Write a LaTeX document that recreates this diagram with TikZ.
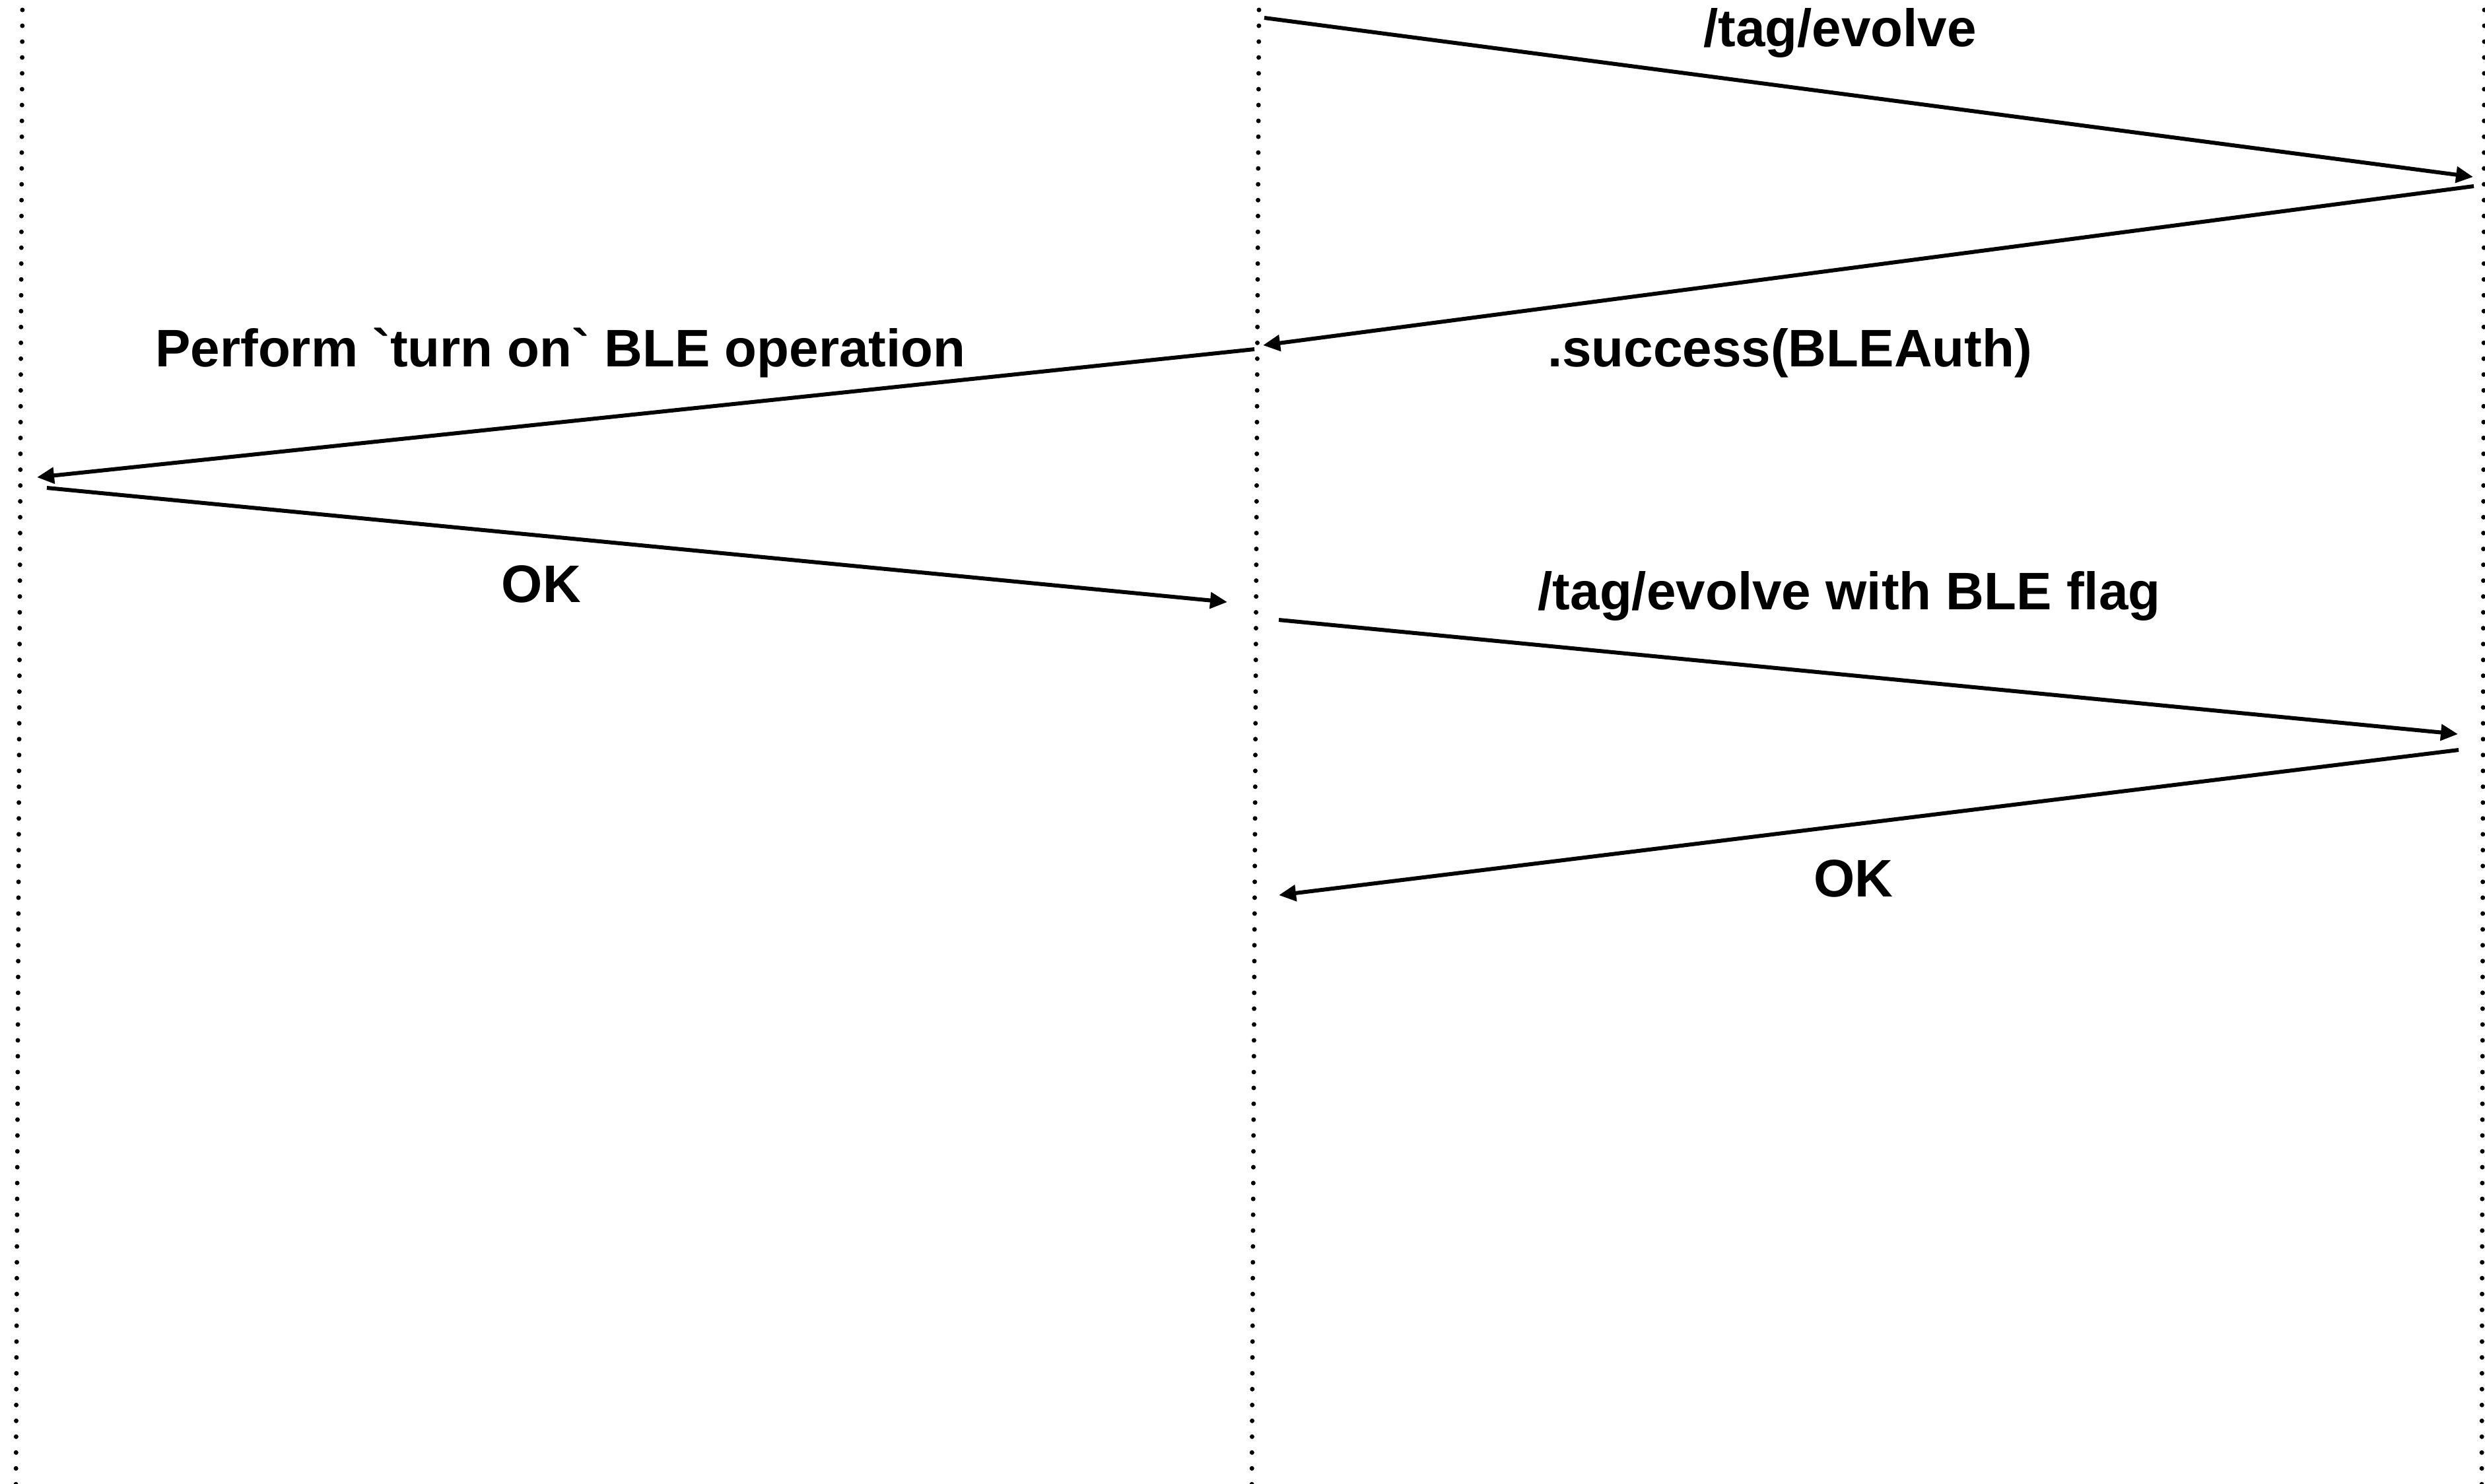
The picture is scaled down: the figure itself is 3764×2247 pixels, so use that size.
\documentclass[tikz,border=0pt]{standalone}
\usepackage{fontspec}
\setmainfont{Liberation Sans}
\usetikzlibrary{arrows.meta}
\newcommand\gravemark{\XeTeXglyph\XeTeXcharglyph"60\relax}
\begin{document}
\begin{tikzpicture}[x=0.01cm,y=-0.01cm,
  lifeline/.style={line width=0.07cm,line cap=round,dash pattern=on 0pt off 0.24cm,dash phase=-0.15cm},
  msg/.style={line width=0.06cm,-{Triangle[length=0.26cm,width=0.24cm]}},
  lbl/.style={anchor=base,inner sep=0pt,font=\fontsize{22.76}{27}\selectfont\bfseries}]
\useasboundingbox (0,0) rectangle (3764,2247);
% lifelines
\coordinate (Ltop) at (34,0);
\coordinate (Lbot) at (24,2270);
\coordinate (Mtop) at (1907,0);
\coordinate (Mbot) at (1896,2270);
\coordinate (Rtop) at (3763,0);
\coordinate (Rbot) at (3759,2270);
\draw[lifeline] (Ltop) -- (Lbot);
\draw[lifeline] (Mtop) -- (Mbot);
\draw[lifeline] (Rtop) -- (Rbot);
% message end points
\coordinate (a1) at (1915,27);   \coordinate (b1) at (3746,268);
\coordinate (a2) at (3747,282);  \coordinate (b2) at (1913,523);
\coordinate (a3) at (1900,529);  \coordinate (b3) at (56,723);
\coordinate (a4) at (71,739);    \coordinate (b4) at (1859,912);
\coordinate (a5) at (1937,939);  \coordinate (b5) at (3723,1112);
\coordinate (a6) at (3724,1136); \coordinate (b6) at (1937,1356);
\draw[msg] (a1) -- (b1);
\draw[msg] (a2) -- (b2);
\draw[msg] (a3) -- (b3);
\draw[msg] (a4) -- (b4);
\draw[msg] (a5) -- (b5);
\draw[msg] (a6) -- (b6);
% labels
\node[lbl] (t1) at (2787,70) {/tag/evolve};
\node[lbl] (t2) at (2711,555) {.success(BLEAuth)};
\node[lbl] (t3) at (849,555) {Perform \gravemark turn on\gravemark{} BLE operation};
\node[lbl] (t4) at (820,912) {OK};
\node[lbl] (t5) at (2801,923) {/tag/evolve with BLE flag};
\node[lbl] (t6) at (2807,1358) {OK};
\end{tikzpicture}
\end{document}
